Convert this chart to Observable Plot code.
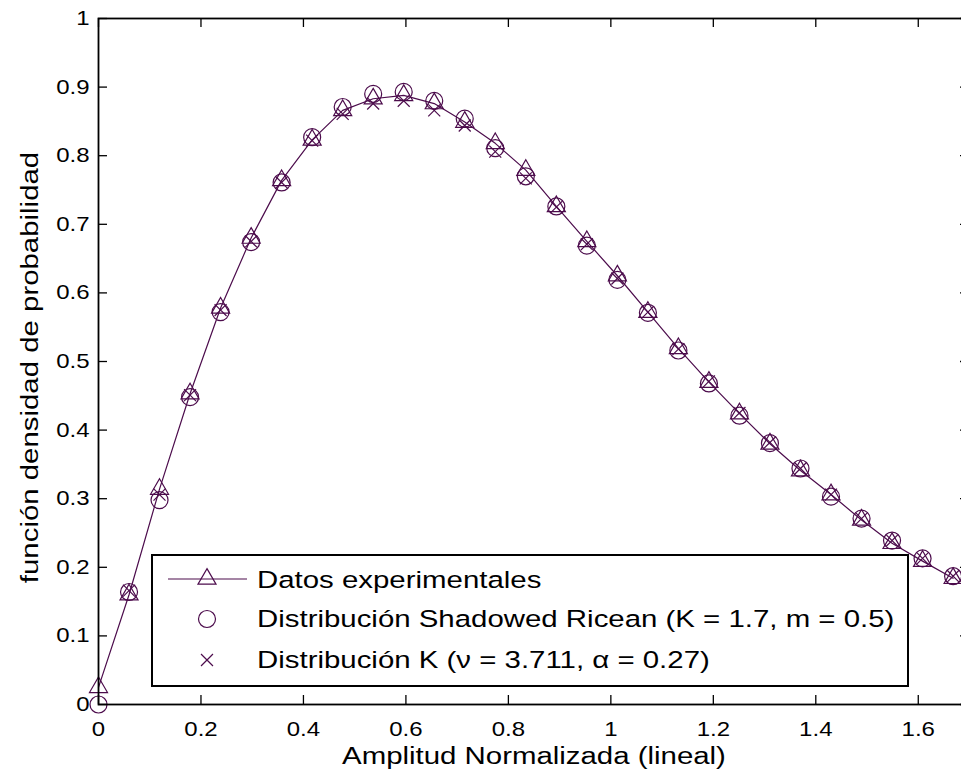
<!DOCTYPE html>
<html><head><meta charset="utf-8">
<script src="https://cdn.jsdelivr.net/npm/d3@7"></script>
<script src="https://cdn.jsdelivr.net/npm/@observablehq/plot@0.6"></script>
<style>
html,body{margin:0;padding:0;overflow:hidden;background:#fff;width:961px;height:776px}
#wrap{position:relative;width:961px;height:776px;overflow:hidden}
#wrap svg.plot{position:absolute;left:0;top:0;max-width:none !important;width:1000px !important;height:776px !important}
#legend{position:absolute;left:151px;top:554px;width:758px;height:133px;box-sizing:border-box;border:2px solid #000;background:#fff;font-family:"Liberation Sans",Arial,sans-serif}
#legend svg{position:absolute;left:0;top:0}
#legend .row{position:absolute;left:104px;height:30px;line-height:30px;font-size:24.5px;white-space:nowrap;transform:scaleX(1.2);transform-origin:0 50%;color:#000}
</style>
</head><body>
<div id="wrap"></div>
<script>
// ---- data ----
const xVals = [0, 0.0596, 0.1191, 0.1787, 0.2383, 0.2979, 0.3574, 0.4170, 0.4766, 0.5361,
  0.5957, 0.6553, 0.7148, 0.7744, 0.8340, 0.8936, 0.9531, 1.0127, 1.0723, 1.1318,
  1.1914, 1.2510, 1.3105, 1.3701, 1.4297, 1.4893, 1.5488, 1.6084, 1.6680];
const expVals = [0.025, 0.160, 0.314, 0.453, 0.578, 0.680, 0.764, 0.823, 0.866, 0.883,
  0.888, 0.876, 0.849, 0.818, 0.779, 0.726, 0.675, 0.625, 0.572, 0.519,
  0.470, 0.424, 0.380, 0.341, 0.306, 0.269, 0.235, 0.209, 0.184];
const riceVals = [0.000, 0.164, 0.298, 0.448, 0.572, 0.674, 0.761, 0.827, 0.871, 0.890,
  0.893, 0.880, 0.854, 0.811, 0.770, 0.726, 0.669, 0.619, 0.571, 0.516,
  0.468, 0.421, 0.381, 0.344, 0.303, 0.271, 0.239, 0.213, 0.187];
const kVals = [null, 0.166, 0.306, 0.451, 0.575, 0.675, 0.761, 0.822, 0.861, 0.876,
  0.880, 0.866, 0.844, 0.806, 0.767, 0.725, 0.671, 0.621, 0.572, 0.518,
  0.471, 0.425, 0.382, 0.344, 0.306, 0.271, 0.239, 0.213, 0.187];
const xTicks = [0, 0.2, 0.4, 0.6, 0.8, 1, 1.2, 1.4, 1.6];
const yTicks = [0, 0.1, 0.2, 0.3, 0.4, 0.5, 0.6, 0.7, 0.8, 0.9, 1];
const seriesNames = ["Datos experimentales", "Distribución Shadowed Ricean (K = 1.7, m = 0.5)", "Distribución K (ν = 3.711, α = 0.27)"];
const xLabel = "Amplitud Normalizada (lineal)";
const yLabel = "función densidad de probabilidad";

// ---- build ----
const expData = xVals.map((x, i) => ({x, y: expVals[i]}));
const riceData = xVals.map((x, i) => ({x, y: riceVals[i]}));
const kData = xVals.map((x, i) => ({x, y: kVals[i]})).filter(d => d.y != null);

const W = 1000, H = 776, ML = 98, MR = 31, MT = 18, MB = 72;
const FW = W - ML - MR, FH = H - MT - MB;
const TL = 9;
const purple = "#4c0c4c";
const font = "Liberation Sans, Arial, sans-serif";

const chart = Plot.plot({
  width: W, height: H,
  marginLeft: ML, marginRight: MR, marginTop: MT, marginBottom: MB,
  x: {domain: [0, 1.7]},
  y: {domain: [0, 1]},
  style: {fontFamily: font, fontSize: "20px", color: "#000", background: "transparent", overflow: "visible", maxWidth: "none"},
  marks: [
    Plot.axisX({ticks: xTicks, tickSize: 0, tickPadding: 17, tickFormat: d => String(d), fontSize: 20, label: null}),
    Plot.axisY({ticks: yTicks, tickSize: 0, tickPadding: 9, tickFormat: d => String(d), fontSize: 20, label: null}),
    Plot.tickX(xTicks, {x: d => d, insetTop: FH - TL, stroke: "#000", strokeWidth: 1.3}),
    Plot.tickX(xTicks, {x: d => d, insetBottom: FH - TL, stroke: "#000", strokeWidth: 1.3}),
    Plot.tickY(yTicks, {y: d => d, insetRight: FW - TL, stroke: "#000", strokeWidth: 1.3}),
    Plot.tickY(yTicks, {y: d => d, insetLeft: FW - TL, stroke: "#000", strokeWidth: 1.3}),
    Plot.line(expData, {x: "x", y: "y", stroke: purple, strokeWidth: 1.2}),
    Plot.dot(expData, {x: "x", y: "y", symbol: "triangle", r: 6.7, stroke: purple, strokeWidth: 1.2, fill: "none"}),
    Plot.dot(riceData, {x: "x", y: "y", symbol: "circle", r: 8.5, stroke: purple, strokeWidth: 1.2, fill: "none"}),
    Plot.dot(kData, {x: "x", y: "y", symbol: "times", r: 5.5, stroke: purple, strokeWidth: 1.2, fill: "none"}),
    Plot.frame({stroke: "#000", strokeWidth: 1.8}),
    Plot.text([xLabel], {text: d => d, frameAnchor: "bottom", dy: 52, fontSize: 24.5, lineAnchor: "middle", textAnchor: "middle", fill: "#000"}),
    Plot.text([yLabel], {text: d => d, frameAnchor: "left", dx: -68, dy: 6, rotate: -90, fontSize: 24.5, lineAnchor: "middle", textAnchor: "middle", fill: "#000"})
  ]
});
chart.classList.add("plot");

// widen glyphs horizontally to match the reference's wide rendering
chart.querySelectorAll("text").forEach(t => {
  const x = +(t.getAttribute("x") || 0);
  const tr = t.getAttribute("transform") || "";
  t.setAttribute("transform", `${tr} translate(${x},0) scale(1.2,1) translate(${-x},0)`);
});

const wrap = document.getElementById("wrap");
wrap.appendChild(chart);

// ---- legend ----
const legend = document.createElement("div");
legend.id = "legend";
const ns = "http://www.w3.org/2000/svg";
const lsvg = document.createElementNS(ns, "svg");
lsvg.setAttribute("width", 754); lsvg.setAttribute("height", 129);
const rowsY = [23, 63, 104];
const sx = 54;
const mk = (tag, attrs) => { const e = document.createElementNS(ns, tag); for (const k in attrs) e.setAttribute(k, attrs[k]); lsvg.appendChild(e); return e; };
mk("line", {x1: 15, x2: 94, y1: rowsY[0], y2: rowsY[0], stroke: purple, "stroke-width": 1.2});
const sym = (type, r) => d3.symbol(type, Math.PI * r * r)();
mk("path", {d: sym(d3.symbolTriangle, 6.7), transform: `translate(${sx},${rowsY[0]})`, fill: "none", stroke: purple, "stroke-width": 1.2});
mk("path", {d: sym(d3.symbolCircle, 8.5), transform: `translate(${sx},${rowsY[1]})`, fill: "none", stroke: purple, "stroke-width": 1.2});
mk("path", {d: sym(d3.symbolTimes, 5.5), transform: `translate(${sx},${rowsY[2]})`, fill: "none", stroke: purple, "stroke-width": 1.2});
legend.appendChild(lsvg);
const textTops = [9, 48, 89];
seriesNames.forEach((name, i) => {
  const d = document.createElement("div");
  d.className = "row";
  d.style.top = textTops[i] + "px";
  d.textContent = name;
  legend.appendChild(d);
});
wrap.appendChild(legend);
</script>
</body></html>
